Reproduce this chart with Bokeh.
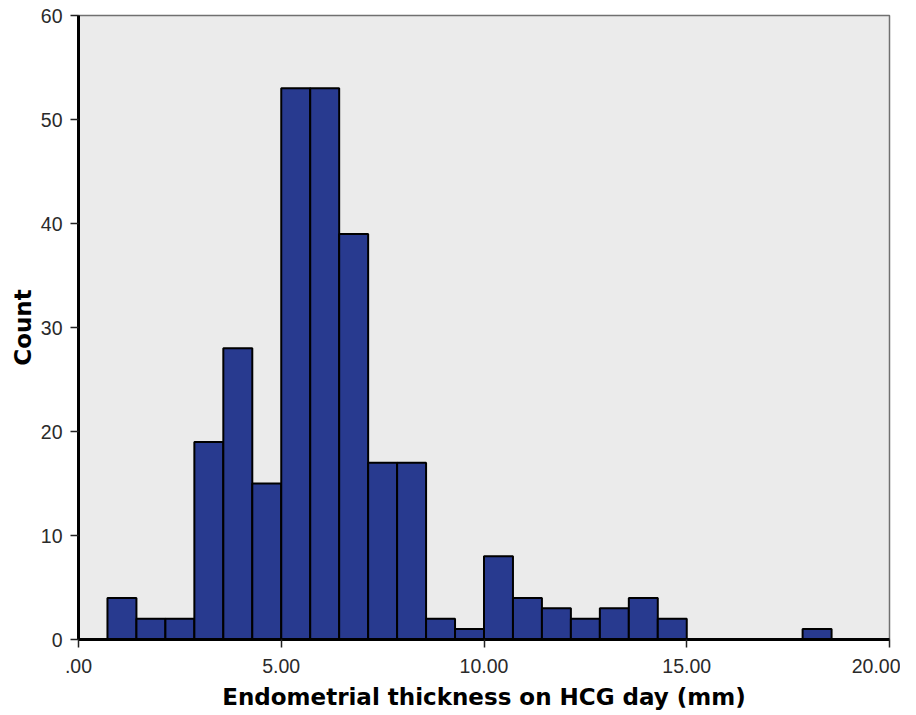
from bokeh.plotting import figure
from bokeh.models import ColumnDataSource, FixedTicker, Range1d
from bokeh.embed import file_html
from bokeh.resources import INLINE

# Histogram data (SPSS-style), bins of width 5/7 mm starting at 5/7 mm
bin_width = 5.0 / 7.0
first_bin_start = 5.0 / 7.0
counts = [4, 2, 2, 19, 28, 15, 53, 53, 39, 17, 17, 2, 1, 8, 4, 3, 2, 3, 4, 2, 0, 0, 0, 0, 1]

x_ticks = [0, 5, 10, 15, 20]
x_tick_labels = [".00", "5.00", "10.00", "15.00", "20.00"]
y_ticks = [0, 10, 20, 30, 40, 50, 60]
y_tick_labels = ["0", "10", "20", "30", "40", "50", "60"]

x_title = "Endometrial thickness on HCG day (mm)"
y_title = "Count"

lefts, rights, tops = [], [], []
for i, c in enumerate(counts):
    if c > 0:
        l = first_bin_start + i * bin_width
        lefts.append(l)
        rights.append(l + bin_width)
        tops.append(c)

src = ColumnDataSource(dict(left=lefts, right=rights, top=tops, bottom=[0] * len(tops)))

p = figure(width=900, height=714, output_backend="svg", toolbar_location=None,
           x_range=Range1d(0, 20), y_range=Range1d(0, 60),
           min_border_left=78, min_border_right=11, min_border_top=15, min_border_bottom=75)

p.background_fill_color = "#EBEBEB"
p.border_fill_color = "white"
p.outline_line_color = "#707070"
p.outline_line_width = 1.5
p.grid.visible = False

p.quad(left="left", right="right", top="top", bottom="bottom", source=src,
       fill_color="#283A8F", line_color="black", line_width=2)

for ax in (p.xaxis[0], p.yaxis[0]):
    ax.axis_line_color = "black"
    ax.axis_line_width = 3
    ax.major_tick_line_color = "#222222"
    ax.major_tick_line_width = 1.5
    ax.major_tick_out = 8
    ax.major_tick_in = 0
    ax.minor_tick_line_color = None
    ax.major_label_text_font = "Liberation Sans"
    ax.major_label_text_font_size = "19.5px"
    ax.major_label_text_color = "#2a2a2a"
    ax.axis_label_text_font = "DejaVu Sans"
    ax.axis_label_text_font_style = "bold"
    ax.axis_label_text_font_size = "23px"
    ax.axis_label_text_color = "black"

p.xaxis.ticker = FixedTicker(ticks=x_ticks)
p.xaxis.major_label_overrides = {t: s for t, s in zip(x_ticks, x_tick_labels)}
p.yaxis.ticker = FixedTicker(ticks=y_ticks)
p.yaxis.major_label_overrides = {t: s for t, s in zip(y_ticks, y_tick_labels)}
p.xaxis.axis_label = x_title
p.yaxis.axis_label = y_title
p.xaxis.major_label_standoff = 11
p.yaxis.major_label_standoff = 8
p.xaxis.axis_label_standoff = 8
p.yaxis.axis_label_standoff = 2

open("out.html", "w").write(file_html(p, INLINE))
